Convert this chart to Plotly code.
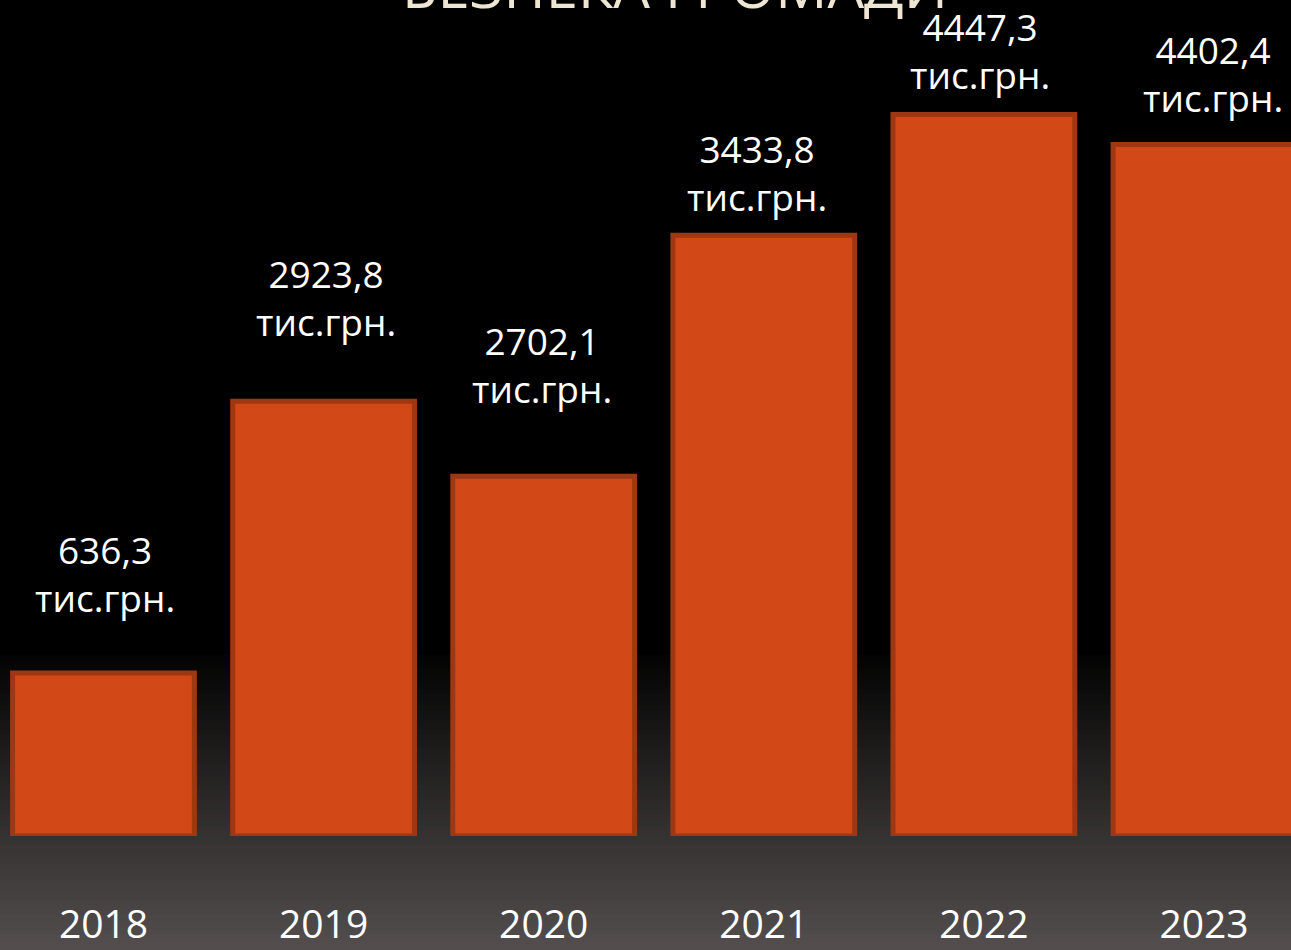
import plotly.graph_objects as go

# ---- data ----
years = ["2018", "2019", "2020", "2021", "2022", "2023"]
values = [636.3, 2923.8, 2702.1, 3433.8, 4447.3, 4402.4]          # labelled values, тис.грн.
bar_heights = [163, 435, 360, 601, 722, 692]                       # bar heights as drawn (relative units)
unit = "тис.грн."
title_text = "БЕЗПЕКА ГРОМАДИ"

# ---- styling ----
W, H = 1291, 950
plot_bottom_px = 836.5
bar_fill = "#D34817"
bar_edge = "#9E3812"
font_family = "Open Sans, Noto Sans, DejaVu Sans, sans-serif"
label_dy = [99.5, 104, 111.5, 63, 64, 71]
label_dx = [1.5, 2, -2, -7, -4, 9]

fig = go.Figure()
fig.add_trace(go.Bar(
    x=years, y=bar_heights,
    marker=dict(color=bar_fill, line=dict(color=bar_edge, width=5)),
    hoverinfo="skip",
))

def fmt(v):
    return f"{v:.1f}".replace(".", ",")

annotations = []
for i, (v, h) in enumerate(zip(values, bar_heights)):
    annotations.append(dict(
        x=i, y=h, xref="x", yref="y",
        text=f"{fmt(v)}<br>{unit}", showarrow=False,
        yanchor="middle", xanchor="center",
        yshift=label_dy[i], xshift=label_dx[i],
        font=dict(family=font_family, size=37, color="white"),
    ))
annotations.append(dict(
    x=675 / W, y=1, xref="paper", yref="paper", text=title_text,
    showarrow=False, xanchor="center", yanchor="middle", yshift=15,
    font=dict(family=font_family, size=58, color="#EEE6D3"),
))

# background gradient strips (dark at top -> warm grey at bottom)
shapes = []
g_start, g_end = 655, 950
c0, c1 = (3, 3, 3), (84, 79, 78)
step = 5
py = g_start
while py < g_end:
    t = (py + step / 2 - g_start) / (g_end - g_start)
    col = tuple(round(a + (b - a) * t) for a, b in zip(c0, c1))
    y_top = (plot_bottom_px - py) / plot_bottom_px
    y_bot = (plot_bottom_px - (py + step + 1)) / plot_bottom_px
    shapes.append(dict(type="rect", xref="paper", yref="paper", x0=-0.01, x1=1.01,
                       y0=y_bot, y1=y_top, fillcolor=f"rgb{col}",
                       line=dict(width=0), layer="below"))
    py += step

fig.update_layout(
    width=W, height=H, autosize=False,
    margin=dict(l=0, r=0, t=0, b=H - plot_bottom_px, pad=0, autoexpand=False),
    paper_bgcolor="black", plot_bgcolor="rgba(0,0,0,0)",
    showlegend=False, bargap=0.174,
    annotations=annotations, shapes=shapes,
    xaxis=dict(type="category", range=[-0.4702, 5.3953], showgrid=False,
               zeroline=False, showline=False, ticks="", automargin=False,
               tickfont=dict(family=font_family, size=39, color="white"),
               ticklabelstandoff=62),
    yaxis=dict(range=[0, plot_bottom_px], visible=False, showgrid=False,
               zeroline=False, automargin=False),
)

fig.write_html(
    "out.html",
    config={"displayModeBar": False},
    post_script="document.body.style.margin='0';document.body.style.overflow='hidden';"
                "document.documentElement.style.overflow='hidden';",
)
